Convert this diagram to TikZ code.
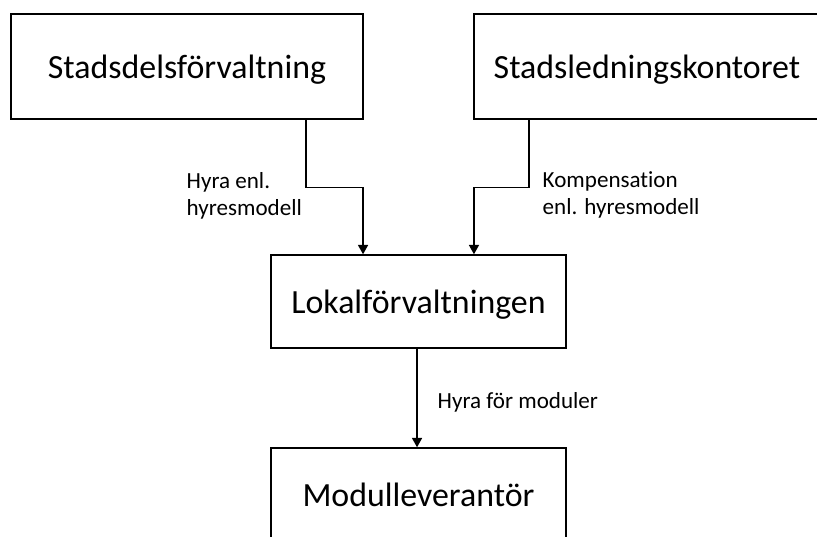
\documentclass[tikz,border=0pt]{standalone}
\usepackage{fontspec}
\setmainfont{Carlito}[Ligatures=NoCommon]
\usetikzlibrary{arrows.meta}

\begin{document}
\begin{tikzpicture}[x=0.75pt,y=-0.75pt,->,>={Triangle[length=7pt,width=7.5pt]},line width=1.1pt,
  box/.style={rectangle,draw,-,font=\fontsize{25.4}{30}\selectfont,text height=20pt,text depth=2.5pt},
  lbl/.style={font=\fontsize{17.3}{20.25}\selectfont,align=left,anchor=base west,inner sep=0pt}]

  \clip (0,0) rectangle (817,536);

  \node[box,minimum width=264pt,minimum height=78.75pt] (sdf) at (187,66.5) {Stadsdelsförvaltning};
  \node[box,minimum width=259.5pt,minimum height=78.75pt] (slk) at (647,66.5) {Stadsledningskontoret};
  \node[box,minimum width=221.25pt,minimum height=69.75pt] (lok) at (418.5,301.5) {Lokalförvaltningen};
  \node[box,minimum width=221.25pt,minimum height=69.75pt] (mod) at (418.5,494.5) {Modulleverantör};

  % flows
  \draw ([xshift=89.25pt]sdf.south) -- ++(0,68) -| ([xshift=-41.6pt]lok.north);
  \draw ([xshift=-88.5pt]slk.south) -- ++(0,68) -| ([xshift=41.6pt]lok.north);
  \draw ([xshift=-1.1pt]lok.south) -- ([xshift=-1.1pt]mod.north);

  \node[lbl] (l1) at (186,215) {Hyra enl.\\hyresmodell};
  \node[lbl] (l2) at (542,214) {Kompensation\\enl. hyresmodell};
  \node[lbl] (l3) at (437,408) {Hyra för moduler};
\end{tikzpicture}
\end{document}
